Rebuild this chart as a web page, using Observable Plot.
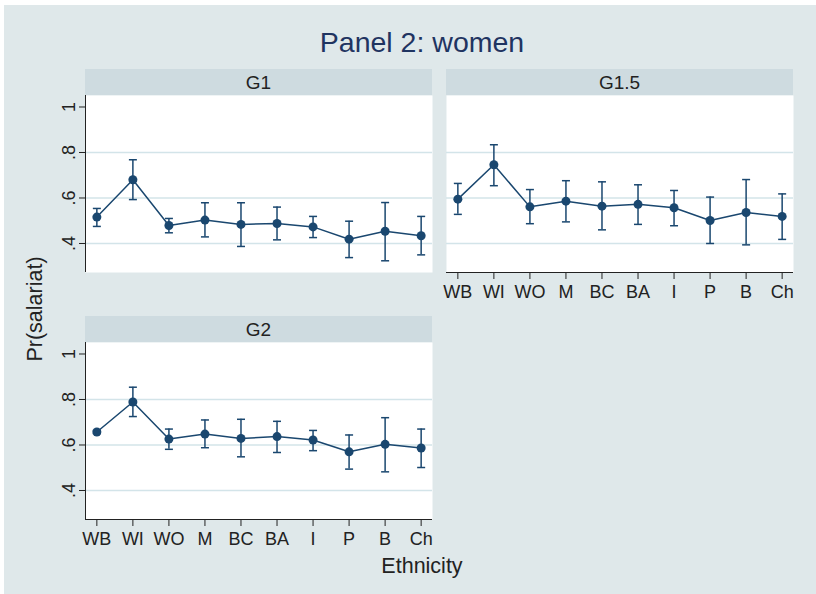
<!DOCTYPE html>
<html>
<head>
<meta charset="utf-8">
<script src="https://cdn.jsdelivr.net/npm/d3@7"></script>
<script src="https://cdn.jsdelivr.net/npm/@observablehq/plot@0.6"></script>
<style>
  body { margin: 0; background: #ffffff; }
  #chart { position: relative; width: 816px; height: 594px; overflow: hidden;
           font-family: "Liberation Sans", Arial, Helvetica, sans-serif; }
  #chart > svg { position: absolute; }
  #chart g[aria-label$="tick label"],
  #chart g[aria-label$="tick label"] text { font-size: 18px !important; fill: #222222; }
</style>
</head>
<body>
<div id="chart"></div>
<script>
// Ethnic groups on the x axis
const ethnicity = ["WB", "WI", "WO", "M", "BC", "BA", "I", "P", "B", "Ch"];
const panelNames = ["G1", "G1.5", "G2"];

// Predicted probability of salariat membership and 95% bounds, by generation
const g1Est = [0.516, 0.680, 0.479, 0.503, 0.484, 0.488, 0.473, 0.419, 0.454, 0.434];
const g1Lo  = [0.475, 0.593, 0.447, 0.429, 0.387, 0.416, 0.426, 0.338, 0.324, 0.350];
const g1Hi  = [0.554, 0.768, 0.510, 0.579, 0.579, 0.560, 0.519, 0.498, 0.580, 0.519];

const g15Est = [0.595, 0.746, 0.561, 0.586, 0.564, 0.572, 0.557, 0.501, 0.536, 0.519];
const g15Lo  = [0.528, 0.654, 0.487, 0.495, 0.460, 0.484, 0.478, 0.400, 0.394, 0.418];
const g15Hi  = [0.664, 0.834, 0.637, 0.676, 0.671, 0.658, 0.633, 0.604, 0.681, 0.618];

const g2Est = [0.657, 0.789, 0.626, 0.648, 0.629, 0.637, 0.622, 0.570, 0.603, 0.587];
const g2Lo  = [0.650, 0.725, 0.581, 0.588, 0.548, 0.567, 0.575, 0.494, 0.482, 0.501];
const g2Hi  = [0.664, 0.854, 0.670, 0.710, 0.713, 0.704, 0.664, 0.644, 0.720, 0.670];

const yTicks = [0.4, 0.6, 0.8, 1];
const gridTicks = [0.4, 0.6, 0.8];

// Styling
const NAVY = "#1a476f";
const GRID = "#d3e4e9";
const BG = "#dfe8ea";
const STRIP = "#cedbe0";
const INK = "#222222";
const FONT = '"Liberation Sans", Arial, Helvetica, sans-serif';
const TICK_FONT = 18;

// Panel geometry
const W = 347, H = 177, STRIP_H = 26;
const mL = 60, mB = 44;
const PAD = 0.315;
const yDomain = [0.2725, 1.0505];

const panels = [
  {name: panelNames[0], est: g1Est, lo: g1Lo, hi: g1Hi, left: 85,  top: 95,  yAxis: true,  xAxis: false},
  {name: panelNames[1], est: g15Est, lo: g15Lo, hi: g15Hi, left: 446, top: 95,  yAxis: false, xAxis: true},
  {name: panelNames[2], est: g2Est, lo: g2Lo, hi: g2Hi, left: 85,  top: 342, yAxis: true,  xAxis: true}
];

const chart = document.getElementById("chart");

// Background, strips and titles
const deco = d3.create("svg")
  .attr("width", 816).attr("height", 594)
  .style("left", "0px").style("top", "0px")
  .style("font-family", FONT);
deco.append("rect").attr("x", 4).attr("y", 5).attr("width", 812).attr("height", 589).attr("fill", BG);
deco.append("text")
  .attr("x", 422).attr("y", 52).attr("text-anchor", "middle")
  .attr("font-size", 28.5).attr("fill", "#1f3461")
  .text("Panel 2: women");
deco.append("text")
  .attr("transform", "translate(42,309) rotate(-90)").attr("text-anchor", "middle")
  .attr("font-size", 21.5).attr("fill", INK)
  .text("Pr(salariat)");
deco.append("text")
  .attr("x", 422).attr("y", 573).attr("text-anchor", "middle")
  .attr("font-size", 21.5).attr("fill", INK)
  .text("Ethnicity");
for (const p of panels) {
  deco.append("rect")
    .attr("x", p.left).attr("y", p.top - STRIP_H).attr("width", W).attr("height", STRIP_H)
    .attr("fill", STRIP);
  deco.append("text")
    .attr("x", p.left + W / 2).attr("y", p.top - STRIP_H / 2).attr("dy", "0.35em")
    .attr("text-anchor", "middle").attr("font-size", 19).attr("fill", INK)
    .text(p.name);
}
chart.appendChild(deco.node());

// Horizontal cap for the error bars
const cap = {
  draw(context, size) {
    const w = Math.sqrt(size / Math.PI);
    context.moveTo(-w, 0);
    context.lineTo(w, 0);
  }
};

const fmtY = d => d === 1 ? "1" : d3.format(".1f")(d).replace(/^0/, "");

for (const p of panels) {
  const rows = ethnicity.map((e, i) => ({i, e, est: p.est[i], lo: p.lo[i], hi: p.hi[i]}));
  const marks = [
    Plot.frame({fill: "white", stroke: "none"}),
    Plot.ruleY(gridTicks, {stroke: GRID, strokeWidth: 1.4})
  ];
  if (p.yAxis) {
    marks.push(
      Plot.ruleX([-PAD], {stroke: INK, strokeWidth: 1}),
      Plot.axisY({ticks: yTicks, tickFormat: fmtY, tickRotate: -90, tickSize: 6,
                  tickPadding: 5, label: null, fontSize: TICK_FONT, color: INK, stroke: INK})
    );
  }
  if (p.xAxis) {
    marks.push(
      Plot.ruleY([yDomain[0]], {stroke: INK, strokeWidth: 1}),
      Plot.axisX({ticks: d3.range(ethnicity.length), tickFormat: i => ethnicity[i],
                  tickSize: 7, tickPadding: 6, label: null, fontSize: TICK_FONT, color: INK, stroke: INK})
    );
  }
  marks.push(
    Plot.ruleX(rows, {x: "i", y1: "lo", y2: "hi", stroke: NAVY, strokeWidth: 1.5}),
    Plot.dot(rows, {x: "i", y: "lo", symbol: cap, r: 4, fill: "none", stroke: NAVY, strokeWidth: 1.5}),
    Plot.dot(rows, {x: "i", y: "hi", symbol: cap, r: 4, fill: "none", stroke: NAVY, strokeWidth: 1.5}),
    Plot.line(rows, {x: "i", y: "est", stroke: NAVY, strokeWidth: 1.5}),
    Plot.dot(rows, {x: "i", y: "est", r: 4.5, fill: NAVY, stroke: "none"})
  );

  const svg = Plot.plot({
    width: mL + W,
    height: H + mB,
    marginLeft: mL, marginRight: 0, marginTop: 0, marginBottom: mB,
    style: {background: "transparent", fontFamily: FONT, fontSize: TICK_FONT + "px", color: INK, overflow: "visible"},
    x: {type: "linear", domain: [-PAD, ethnicity.length - 1 + PAD], axis: null},
    y: {domain: yDomain, axis: null},
    marks
  });
  svg.style.position = "absolute";
  svg.style.left = (p.left - mL) + "px";
  svg.style.top = p.top + "px";
  svg.style.maxWidth = "none";
  chart.appendChild(svg);
}
</script>
</body>
</html>
